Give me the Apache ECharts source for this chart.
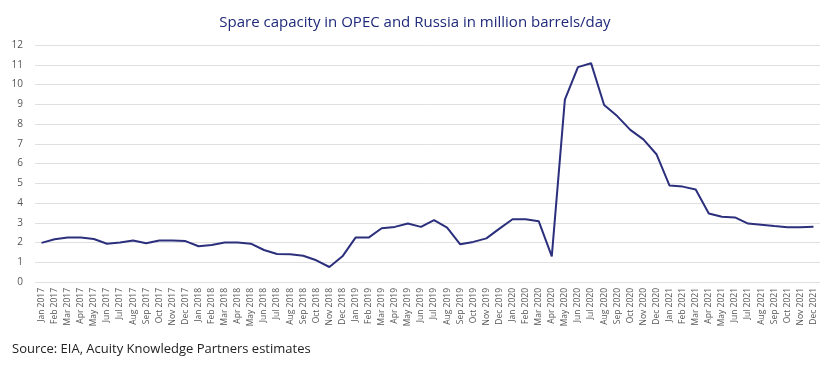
<!DOCTYPE html>
<html><head><meta charset="utf-8">
<script src="https://cdn.jsdelivr.net/npm/echarts@6/dist/echarts.min.js"></script>
<style>html,body{margin:0;padding:0;background:#fff}#c{width:830px;height:366px}</style>
</head><body><div id="c"></div>
<script>
const months = ["Jan","Feb","Mar","Apr","May","Jun","Jul","Aug","Sep","Oct","Nov","Dec"];
const years = [2017,2018,2019,2020,2021];
const categories = [];
years.forEach(y => months.forEach(m => categories.push(m + " " + y)));
const spareCapacity = [
  1.98, 2.16, 2.25, 2.25, 2.18, 1.94, 2.0, 2.1, 1.96, 2.1, 2.1, 2.07,
  1.81, 1.87, 2.0, 2.0, 1.94, 1.62, 1.42, 1.4, 1.33, 1.1, 0.76, 1.3,
  2.25, 2.25, 2.72, 2.79, 2.96, 2.79, 3.13, 2.75, 1.91, 2.03, 2.21, 2.7,
  3.18, 3.18, 3.08, 1.3, 9.23, 10.88, 11.08, 8.96, 8.4, 7.7, 7.22, 6.47,
  4.88, 4.83, 4.68, 3.47, 3.3, 3.27, 2.96, 2.9, 2.83, 2.77, 2.77, 2.8
];
const yTicks = { min: 0, max: 12, interval: 1 };
const chart = echarts.init(document.getElementById('c'));
chart.setOption({
  animation: false,
  title: {
    text: 'Spare capacity in OPEC and Russia in million barrels/day',
    left: 'center', top: 10,
    textStyle: { color: '#1f2a7a', fontSize: 15, fontWeight: 'normal', fontFamily: 'Open Sans' }
  },
  graphic: [{
    type: 'text', left: 12, top: 343,
    style: { text: 'Source: EIA, Acuity Knowledge Partners estimates', fill: '#222', fontSize: 13, fontFamily: 'Open Sans' }
  }],
  grid: { left: 35, right: 10, top: 45, bottom: 84 },
  xAxis: {
    type: 'category', data: categories, boundaryGap: true,
    axisLine: { show: false }, axisTick: { show: false },
    axisLabel: { rotate: 90, interval: 0, fontSize: 8.5, color: '#555', fontFamily: 'Open Sans', margin: 6 }
  },
  yAxis: {
    type: 'value', min: yTicks.min, max: yTicks.max, interval: yTicks.interval,
    axisLine: { show: false }, axisTick: { show: false },
    axisLabel: { fontSize: 10, color: '#555', fontFamily: 'Open Sans', margin: 12 },
    splitLine: { lineStyle: { color: '#e0e0e0', width: 1 } }
  },
  series: [{
    type: 'line', data: spareCapacity, showSymbol: false,
    lineStyle: { color: '#2b2f7c', width: 2 }
  }]
});
</script></body></html>
